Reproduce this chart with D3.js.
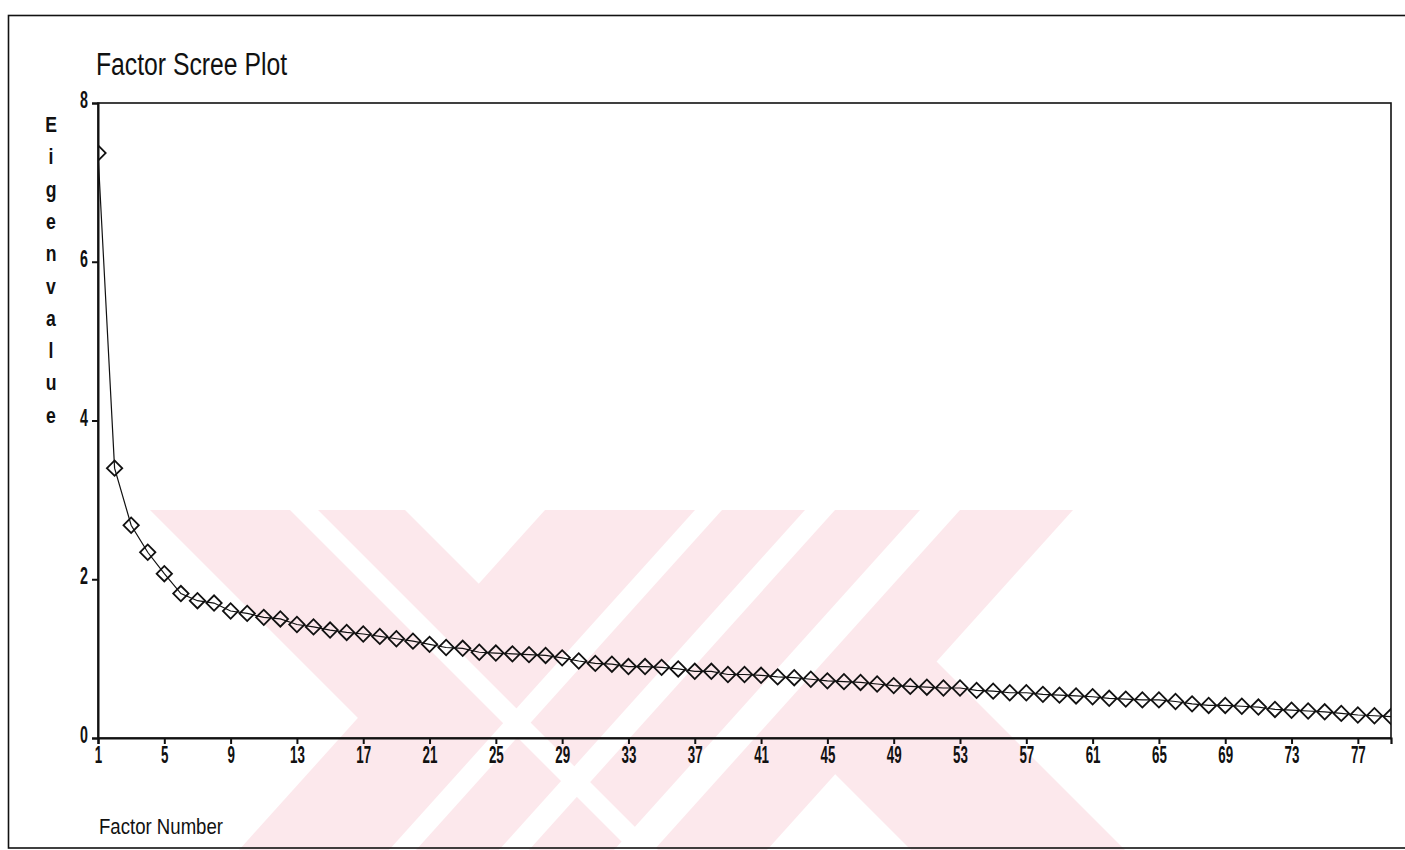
<!DOCTYPE html>
<html>
<head>
<meta charset="utf-8">
<script src="https://cdn.jsdelivr.net/npm/d3@7/dist/d3.min.js"></script>
<style>
  html, body { margin: 0; padding: 0; background: #fff; }
  svg { display: block; }
  .narrow { font-family: "Liberation Sans Narrow", "Arial Narrow", "Liberation Sans", Arial, sans-serif; }
</style>
</head>
<body>
<svg id="chart" width="1405" height="850"></svg>
<script>
// Eigenvalues of the extracted factors, in order (factor 1 .. 79)
const eigenvalues = [
  7.37, 3.40, 2.68, 2.34, 2.07, 1.82, 1.73, 1.70, 1.60, 1.57,
  1.52, 1.50, 1.43, 1.40, 1.36, 1.33, 1.31, 1.28, 1.25, 1.22,
  1.18, 1.14, 1.13, 1.08, 1.07, 1.06, 1.05, 1.04, 1.01, 0.97,
  0.94, 0.93, 0.90, 0.90, 0.89, 0.87, 0.84, 0.84, 0.80, 0.80,
  0.79, 0.77, 0.76, 0.74, 0.72, 0.71, 0.70, 0.68, 0.66, 0.65,
  0.64, 0.63, 0.63, 0.60, 0.59, 0.57, 0.57, 0.55, 0.54, 0.53,
  0.52, 0.50, 0.49, 0.48, 0.48, 0.46, 0.43, 0.41, 0.41, 0.40,
  0.39, 0.36, 0.35, 0.34, 0.33, 0.31, 0.29, 0.28, 0.27
];
const xTickValues = [1, 5, 9, 13, 17, 21, 25, 29, 33, 37, 41, 45, 49, 53, 57, 61, 65, 69, 73, 77];
const yTickValues = [0, 2, 4, 6, 8];
const titleText = "Factor Scree Plot";
const xAxisTitle = "Factor Number";
const yAxisTitle = "Eigenvalue";

const points = eigenvalues.map((v, i) => ({ factor: i + 1, value: v }));

const svg = d3.select("#chart");
const plot = { left: 98, right: 1391, top: 103, bottom: 738 };
const ink = "#111";
const squeeze = 0.58; // horizontal compression for the condensed digits

// ---- background mark (pale striped emblem behind the chart) ----
const pink = "#fce8ec";
const wm = svg.append("g").attr("class", "emblem");
const yTop = 510, yBot = 860;
// band between two edges, each edge given by its x at yTop and its dx/dy slope
function band(x0, x1, slope) {
  const h = yBot - yTop;
  return [[x0, yTop], [x1, yTop], [x1 + slope * h, yBot], [x0 + slope * h, yBot]];
}
const pinkBands = [
  band(150, 405, 1.0),
  band(545, 1073, -0.9),
  band(571, 785, 1.0)
];
const whiteGaps = [
  band(695, 722, -0.9),
  band(805, 835, -0.9),
  band(920, 960, -0.9),
  band(290, 318, 1.0)
];
wm.selectAll("polygon.p").data(pinkBands).join("polygon")
  .attr("class", "p").attr("points", d => d.join(" ")).attr("fill", pink);
wm.selectAll("polygon.w").data(whiteGaps).join("polygon")
  .attr("class", "w").attr("points", d => d.join(" ")).attr("fill", "#fff");

// ---- outer frame ----
svg.append("rect")
  .attr("x", 8.5).attr("y", 15.5)
  .attr("width", 1420).attr("height", 832.5)
  .attr("fill", "none").attr("stroke", ink).attr("stroke-width", 1.6);

// ---- title ----
svg.append("text").attr("class", "narrow")
  .attr("x", 96).attr("y", 75)
  .attr("font-size", 31)
  .attr("textLength", 191).attr("lengthAdjust", "spacingAndGlyphs")
  .attr("fill", ink)
  .text(titleText);

// ---- scales ----
const x = d3.scaleLinear().domain([1, 79]).range([plot.left, plot.right]);
const y = d3.scaleLinear().domain([0, 8]).range([plot.bottom, plot.top]);

// ---- plot box ----
svg.append("rect")
  .attr("x", plot.left).attr("y", plot.top)
  .attr("width", plot.right - plot.left).attr("height", plot.bottom - plot.top)
  .attr("fill", "none").attr("stroke", ink).attr("stroke-width", 1.6);

// ---- axes ----
const xAxis = d3.axisBottom(x).tickValues(xTickValues).tickSize(6).tickPadding(3).tickFormat(d3.format("d"));
const gx = svg.append("g").attr("transform", `translate(0,${plot.bottom})`).call(xAxis);
gx.select(".domain").attr("stroke", ink).attr("stroke-width", 2.2);
gx.selectAll(".tick line").attr("stroke", ink).attr("stroke-width", 2);
gx.selectAll(".tick text")
  .attr("class", "narrow")
  .attr("font-size", 23).attr("font-weight", "bold").attr("fill", ink)
  .attr("transform", `scale(${squeeze},1)`);

const yAxis = d3.axisLeft(y).tickValues(yTickValues).tickSize(6).tickPadding(5).tickFormat(d3.format("d"));
const gy = svg.append("g").attr("transform", `translate(${plot.left},0)`).call(yAxis);
gy.select(".domain").attr("stroke", ink).attr("stroke-width", 2);
gy.selectAll(".tick line").attr("stroke", ink).attr("stroke-width", 2);
gy.selectAll(".tick text")
  .attr("class", "narrow")
  .attr("font-size", 23).attr("font-weight", "bold").attr("fill", ink)
  .attr("x", -10 / 0.62)
  .attr("dy", "0.2em")
  .attr("transform", "scale(0.62,1)");

// ---- axis titles ----
const letters = yAxisTitle.split("");
svg.append("g").selectAll("text").data(letters).join("text")
  .attr("class", "narrow")
  .attr("text-anchor", "middle")
  .attr("font-size", 22).attr("font-weight", "bold").attr("fill", ink)
  .attr("transform", (d, i) => `translate(51,${132 + i * 32.3}) scale(0.8,1)`)
  .text(d => d);

svg.append("text").attr("class", "narrow")
  .attr("x", 99).attr("y", 834)
  .attr("font-size", 22)
  .attr("textLength", 124).attr("lengthAdjust", "spacingAndGlyphs")
  .attr("fill", ink)
  .text(xAxisTitle);

// ---- scree line with diamond markers ----
svg.append("clipPath").attr("id", "plot-clip")
  .append("rect")
  .attr("x", plot.left).attr("y", plot.top)
  .attr("width", plot.right - plot.left).attr("height", plot.bottom - plot.top);

const series = svg.append("g").attr("clip-path", "url(#plot-clip)");

series.append("path")
  .datum(points)
  .attr("fill", "none").attr("stroke", ink).attr("stroke-width", 1.2)
  .attr("d", d3.line().x(d => x(d.factor)).y(d => y(d.value)));

const diamond = d3.symbol().type(d3.symbolSquare).size(118);
series.selectAll("path.marker").data(points).join("path")
  .attr("class", "marker")
  .attr("transform", d => `translate(${x(d.factor)},${y(d.value)}) rotate(45)`)
  .attr("d", diamond)
  .attr("fill", "none").attr("stroke", ink).attr("stroke-width", 1.8);
</script>
</body>
</html>
